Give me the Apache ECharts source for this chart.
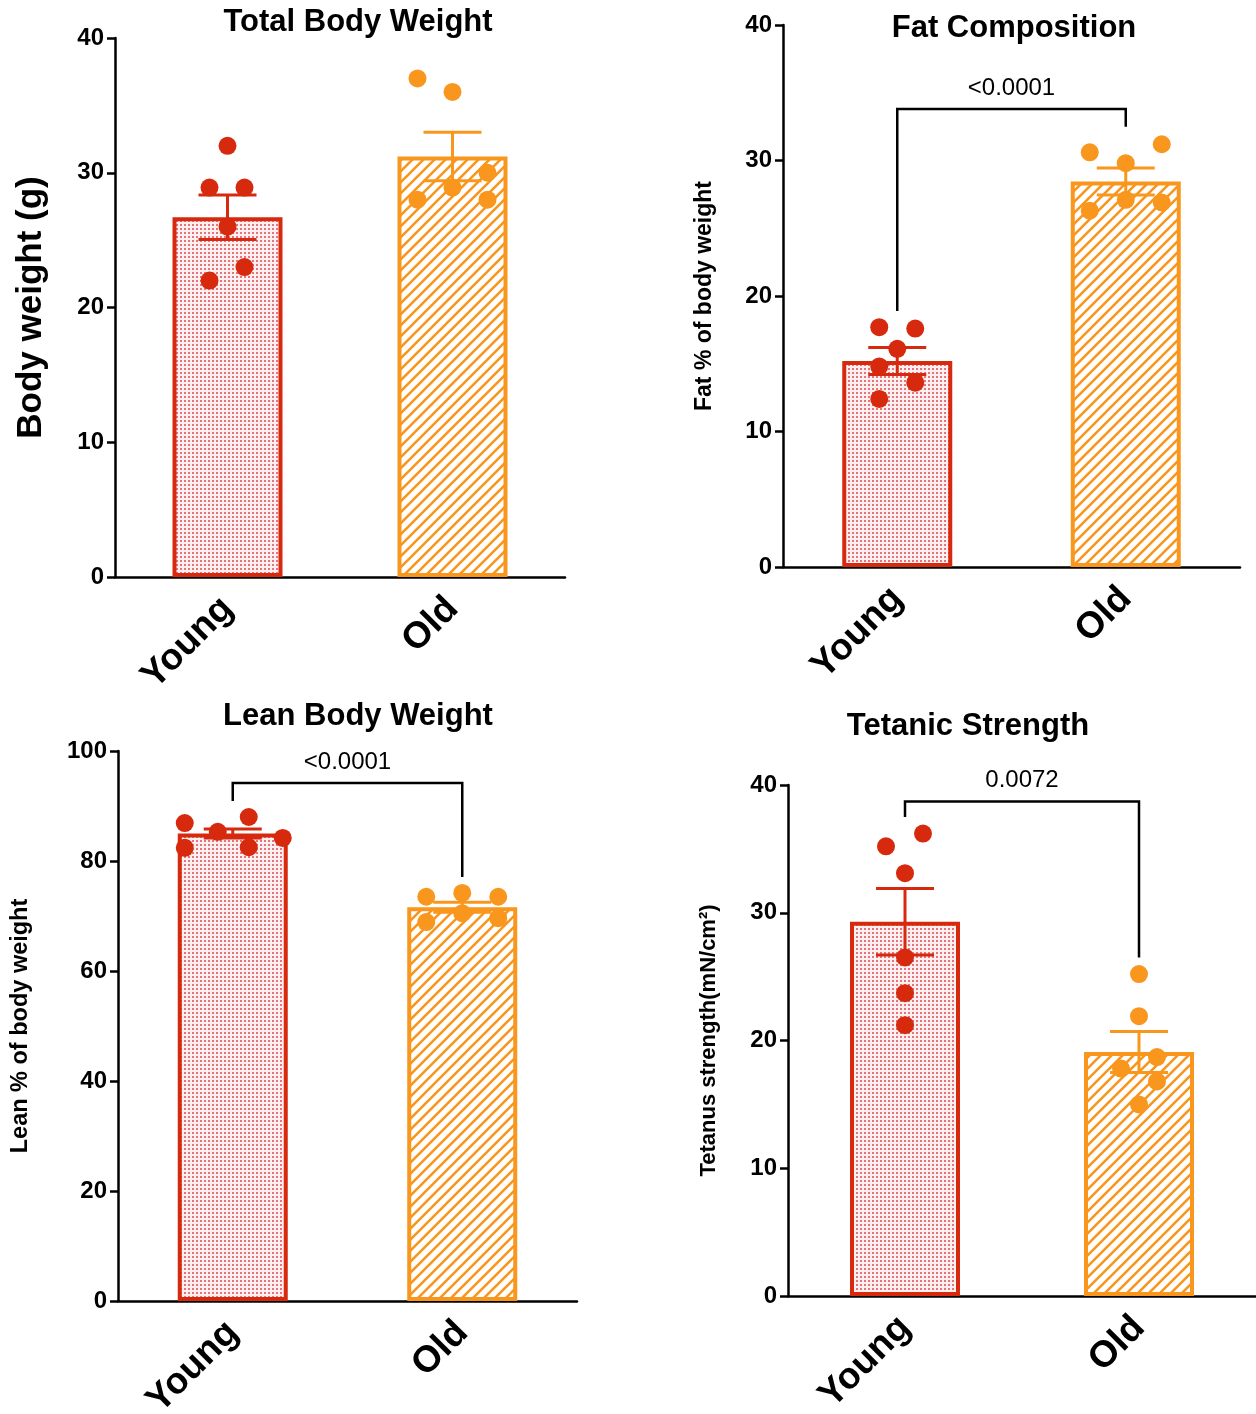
<!DOCTYPE html>
<html><head><meta charset="utf-8">
<script src="https://cdn.jsdelivr.net/npm/echarts@6/dist/echarts.min.js"></script>
<style>html,body{margin:0;padding:0;background:#fff}#c{width:1256px;height:1414px}</style>
</head><body><div id="c"></div>
<script>
// ---------------- DATA ----------------
const categories = ['Young', 'Old'];
const panelTitles = ['Total Body Weight', 'Fat Composition', 'Lean Body Weight', 'Tetanic Strength'];
const yAxisNames = ['Body weight (g)', 'Fat % of body weight', 'Lean % of body weight', 'Tetanus strength(mN/cm²)'];
const yMax = [40, 40, 100, 40];
const yInterval = [10, 10, 20, 10];

// Total body weight
const bodyWeightMean = [26.7, 31.2];
const bodyWeightSem = [1.65, 1.8];
const bodyWeightYoung = [32.0, 28.9, 28.9, 26.0, 22.0, 23.0];
const bodyWeightOld = [37.0, 36.0, 28.0, 28.9, 30.0, 28.0];
const bodyWeightYoungJitter = [0, -18, 17, 0, -18, 17];
const bodyWeightOldJitter = [-35, 0, -35, 0, 35, 35];

// Fat composition
const fatMean = [15.2, 28.45];
const fatSem = [1.0, 1.0];
const fatYoung = [17.7, 17.6, 16.1, 14.8, 13.6, 12.4];
const fatOld = [30.6, 31.2, 29.8, 27.1, 26.3, 26.9];
const fatYoungJitter = [-18, 18, 0, -18, 18, -18];
const fatOldJitter = [-36, 36, 0, 0, -36, 36];
const fatBracket = [33.8, 18.9, 32.5];
const fatP = '<0.0001';

// Lean body weight
const leanMean = [85.0, 71.6];
const leanSem = [0.8, 0.9];
const leanYoung = [86.9, 85.3, 88.0, 82.4, 82.5, 84.2];
const leanOld = [73.5, 74.2, 73.5, 68.9, 70.5, 69.6];
const leanYoungJitter = [-48, -15, 16, -48, 16, 50];
const leanOldJitter = [-36, 0, 36, -36, 0, 36];
const leanBracket = [94.2, 90.9, 77.1];
const leanP = '<0.0001';

// Tetanic strength
const tetMean = [29.3, 19.1];
const tetSem = [2.6, 1.6];
const tetYoung = [35.2, 36.2, 33.1, 26.5, 23.7, 21.2];
const tetOld = [25.2, 21.9, 17.8, 18.7, 16.8, 15.0];
const tetYoungJitter = [-19, 18, 0, 0, 0, 0];
const tetOldJitter = [0, 0, -18, 18, 18, 0];
const tetBracket = [38.7, 37.5, 26.5];
const tetP = '0.0072';

// ---------------- STYLE ----------------
const RED = '#d6290e';
const ORANGE = '#f8961d';
const FONT = '"Liberation Sans", Arial, Helvetica, sans-serif';

function dotPattern() {
  const c = document.createElement('canvas');
  c.width = 4; c.height = 4;
  const g = c.getContext('2d');
  g.fillStyle = '#fdf0f0'; g.fillRect(0, 0, 4, 4);
  g.fillStyle = '#e6737b'; g.fillRect(0, 0, 2, 2);
  return { image: c, repeat: 'repeat' };
}
function hatchPattern() {
  const s = 11;
  const c = document.createElement('canvas');
  c.width = s; c.height = s;
  const g = c.getContext('2d');
  g.fillStyle = '#ffffff'; g.fillRect(0, 0, s, s);
  g.strokeStyle = ORANGE; g.lineWidth = 2.6;
  g.beginPath();
  g.moveTo(-s, s); g.lineTo(s, -s);
  g.moveTo(0, s); g.lineTo(s, 0);
  g.moveTo(0, 2 * s); g.lineTo(2 * s, 0);
  g.stroke();
  return { image: c, repeat: 'repeat' };
}
const fills = [dotPattern(), hatchPattern()];
const colors = [RED, ORANGE];

const grids = [
  { left: 115, top: 38, width: 450, height: 539 },
  { left: 783, top: 25, width: 457, height: 542 },
  { left: 118, top: 751, width: 459, height: 550 },
  { left: 788, top: 785, width: 468, height: 511 }
];
const nameGaps = [66, 67, 85, 68];
const nameSizes = [35, 23, 23.5, 22];
const titlePos = [[358, 7], [1014, 13], [358, 701], [968, 711]];

const panels = [
  { mean: bodyWeightMean, sem: bodyWeightSem, pts: [bodyWeightYoung, bodyWeightOld], jit: [bodyWeightYoungJitter, bodyWeightOldJitter], bracket: null, p: '' },
  { mean: fatMean, sem: fatSem, pts: [fatYoung, fatOld], jit: [fatYoungJitter, fatOldJitter], bracket: fatBracket, p: fatP },
  { mean: leanMean, sem: leanSem, pts: [leanYoung, leanOld], jit: [leanYoungJitter, leanOldJitter], bracket: leanBracket, p: leanP },
  { mean: tetMean, sem: tetSem, pts: [tetYoung, tetOld], jit: [tetYoungJitter, tetOldJitter], bracket: tetBracket, p: tetP }
];

const option = { animation: false, backgroundColor: '#fff', title: [], grid: [], xAxis: [], yAxis: [], series: [] };

panels.forEach((pn, i) => {
  option.title.push({
    text: panelTitles[i], left: titlePos[i][0], top: titlePos[i][1], textAlign: 'center', padding: 0,
    textStyle: { fontFamily: FONT, fontWeight: 'bold', fontSize: 31, color: '#000' }
  });
  option.grid.push(Object.assign({ containLabel: false, outerBoundsMode: 'none' }, grids[i]));
  option.xAxis.push({
    type: 'category', gridIndex: i, data: categories,
    axisLine: { lineStyle: { color: '#000', width: 2.5 } },
    axisTick: { alignWithLabel: true, length: 10, lineStyle: { color: '#000', width: 2.5 } },
    axisLabel: { rotate: 45, margin: 26, fontFamily: FONT, fontWeight: 'bold', fontSize: 37, color: '#000', interval: 0 },
    splitLine: { show: false }
  });
  option.yAxis.push({
    type: 'value', gridIndex: i, min: 0, max: yMax[i], interval: yInterval[i],
    name: yAxisNames[i], nameLocation: 'middle', nameGap: nameGaps[i], nameRotate: 90,
    nameTextStyle: { fontFamily: FONT, fontWeight: 'bold', fontSize: nameSizes[i], color: '#000' },
    axisLine: { show: true, lineStyle: { color: '#000', width: 2.5 } },
    axisTick: { show: true, length: 8, lineStyle: { color: '#000', width: 2.5 } },
    axisLabel: { margin: 11, fontFamily: FONT, fontWeight: 'bold', fontSize: 24, color: '#000' },
    splitLine: { show: false }
  });
  // bars
  option.series.push({
    type: 'bar', xAxisIndex: i, yAxisIndex: i, barWidth: 110, z: 2,
    data: pn.mean.map((m, k) => ({ value: m, itemStyle: { color: fills[k], borderColor: colors[k], borderWidth: 4 } }))
  });
  // error bars
  option.series.push({
    type: 'custom', xAxisIndex: i, yAxisIndex: i, z: 3,
    encode: { x: 0, y: [1] },
    data: pn.mean.map((m, k) => [k, m, pn.sem[k]]),
    renderItem: function (params, api) {
      const x = api.value(0), m = api.value(1), s = api.value(2);
      const t = api.coord([x, m + s]), b = api.coord([x, m - s]);
      const hw = 29;
      const st = { stroke: colors[params.dataIndex], lineWidth: 3 };
      return { type: 'group', children: [
        { type: 'line', shape: { x1: t[0], y1: t[1], x2: b[0], y2: b[1] }, style: st },
        { type: 'line', shape: { x1: t[0] - hw, y1: t[1], x2: t[0] + hw, y2: t[1] }, style: st },
        { type: 'line', shape: { x1: b[0] - hw, y1: b[1], x2: b[0] + hw, y2: b[1] }, style: st }
      ] };
    }
  });
  // points
  [0, 1].forEach(k => {
    option.series.push({
      type: 'custom', xAxisIndex: i, yAxisIndex: i, z: 4,
      encode: { x: 0, y: 1 },
      data: pn.pts[k].map((v, j) => [k, v, pn.jit[k][j]]),
      renderItem: function (params, api) {
        const p = api.coord([api.value(0), api.value(1)]);
        return { type: 'circle', shape: { cx: p[0] + api.value(2), cy: p[1], r: 9 }, style: { fill: colors[k] } };
      }
    });
  });
  // significance bracket
  if (pn.bracket) {
    const label = pn.p;
    option.series.push({
      type: 'custom', xAxisIndex: i, yAxisIndex: i, z: 5,
      encode: { x: 0, y: 2 },
      data: [[0, 1, pn.bracket[0], pn.bracket[1], pn.bracket[2]]],
      renderItem: function (params, api) {
        const y = api.value(2), l = api.value(3), r = api.value(4);
        const a = api.coord([0, y]), b = api.coord([1, y]);
        const la = api.coord([0, l]), rb = api.coord([1, r]);
        return { type: 'group', children: [
          { type: 'polyline', shape: { points: [[la[0], la[1]], [a[0], a[1]], [b[0], b[1]], [rb[0], rb[1]]] },
            style: { stroke: '#000', lineWidth: 2.5, fill: null } },
          { type: 'text', x: (a[0] + b[0]) / 2, y: a[1] - 9,
            style: { text: label, fontFamily: FONT, fontSize: 24, fill: '#000', align: 'center', verticalAlign: 'bottom' } }
        ] };
      }
    });
  }
});

const chart = echarts.init(document.getElementById('c'), null, { renderer: 'canvas' });
chart.setOption(option);
</script>
</body></html>
